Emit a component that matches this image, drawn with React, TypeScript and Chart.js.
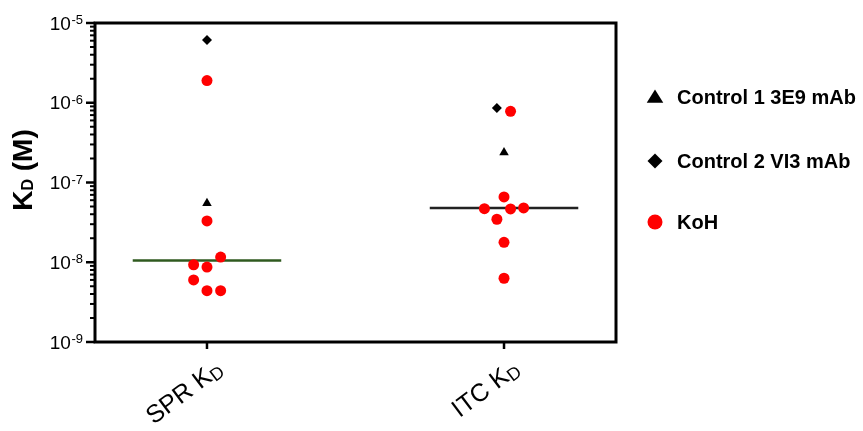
import React, { useEffect, useRef } from 'react';
import { Chart, registerables } from 'chart.js';
Chart.register(...registerables);

const categories = ['SPR', 'ITC'];
const categoryLabelMain = ['SPR K', 'ITC K'];
const categoryLabelSub = ['D', 'D'];
const yTickExponents = [-5, -6, -7, -8, -9];

const kohSprValues = [1.9e-6, 3.3e-8, 1.16e-8, 9.3e-9, 8.7e-9, 6.0e-9, 4.4e-9, 4.4e-9];
const kohSprJitter = [0, 0, 0.046, -0.045, 0, -0.045, 0, 0.046];
const kohItcValues = [7.8e-7, 6.6e-8, 4.7e-8, 4.66e-8, 4.8e-8, 3.46e-8, 1.78e-8, 6.3e-9];
const kohItcJitter = [0.022, 0, -0.066, 0.022, 0.066, -0.024, 0, 0];
const control1Values = [5.5e-8, 2.37e-7];
const control1Jitter = [0, 0];
const control2Values = [6.1e-6, 8.6e-7];
const control2Jitter = [0, -0.024];
const medianValues = [1.05e-8, 4.8e-8];
const medianHalfWidth = 0.25;
const legendLabels = ['Control 1 3E9 mAb', 'Control 2 VI3 mAb', 'KoH'];

const FONT = '"Liberation Sans", Arial, Helvetica, sans-serif';
const RED = '#ff0000';
const GREEN = '#2f5a1f';

function drawShape(ctx: CanvasRenderingContext2D, kind: string, x: number, y: number, r: number, color: string) {
  ctx.save();
  ctx.fillStyle = color;
  ctx.beginPath();
  if (kind === 'triangle') {
    ctx.moveTo(x, y - r);
    ctx.lineTo(x + r * 1.1, y + r * 0.75);
    ctx.lineTo(x - r * 1.1, y + r * 0.75);
    ctx.closePath();
  } else if (kind === 'diamond') {
    ctx.moveTo(x, y - r);
    ctx.lineTo(x + r, y);
    ctx.lineTo(x, y + r);
    ctx.lineTo(x - r, y);
    ctx.closePath();
  } else {
    ctx.arc(x, y, r, 0, Math.PI * 2);
  }
  ctx.fill();
  ctx.restore();
}

const decorPlugin = {
  id: 'decor',
  afterDraw(chart: any) {
    const ctx: CanvasRenderingContext2D = chart.ctx;
    const { left, right, top, bottom } = chart.chartArea;
    const xs = chart.scales.x;
    const ys = chart.scales.y;
    ctx.save();
    // frame
    ctx.strokeStyle = '#000';
    ctx.lineWidth = 3;
    ctx.strokeRect(left, top, right - left, bottom - top);

    // y ticks
    for (let e = -9; e <= -5; e++) {
      const py = ys.getPixelForValue(Math.pow(10, e));
      ctx.lineWidth = 2.5;
      ctx.beginPath();
      ctx.moveTo(left - 9, py);
      ctx.lineTo(left, py);
      ctx.stroke();
      if (e < -5) {
        for (let m = 2; m <= 9; m++) {
          const pm = ys.getPixelForValue(m * Math.pow(10, e));
          ctx.lineWidth = 2;
          ctx.beginPath();
          ctx.moveTo(left - 5, pm);
          ctx.lineTo(left, pm);
          ctx.stroke();
        }
      }
    }
    // y tick labels
    ctx.fillStyle = '#000';
    yTickExponents.forEach((e) => {
      const py = ys.getPixelForValue(Math.pow(10, e));
      const sup = String(e);
      ctx.font = `13px ${FONT}`;
      const sw = ctx.measureText(sup).width;
      const rightEdge = left - 12;
      ctx.textAlign = 'right';
      ctx.textBaseline = 'alphabetic';
      ctx.fillText(sup, rightEdge, py + 1);
      ctx.font = `19px ${FONT}`;
      ctx.fillText('10', rightEdge - sw - 0.5, py + 6.5);
    });

    // x ticks and labels
    categories.forEach((c, i) => {
      const px = xs.getPixelForValue(i + 1);
      ctx.lineWidth = 2.5;
      ctx.beginPath();
      ctx.moveTo(px, bottom);
      ctx.lineTo(px, bottom + 7);
      ctx.stroke();

      ctx.save();
      ctx.translate(px + 17, bottom + 30);
      ctx.rotate(-37 * Math.PI / 180);
      ctx.font = `25px ${FONT}`;
      const mw = ctx.measureText(categoryLabelMain[i]).width;
      ctx.font = `18px ${FONT}`;
      const dw = ctx.measureText(categoryLabelSub[i]).width;
      ctx.textAlign = 'left';
      ctx.textBaseline = 'alphabetic';
      ctx.font = `25px ${FONT}`;
      ctx.fillText(categoryLabelMain[i], -mw - dw, 0);
      ctx.font = `18px ${FONT}`;
      ctx.fillText(categoryLabelSub[i], -dw, 3);
      ctx.restore();
    });

    // y title
    ctx.save();
    ctx.translate(32, 170);
    ctx.rotate(-Math.PI / 2);
    ctx.textBaseline = 'alphabetic';
    ctx.textAlign = 'left';
    ctx.font = `bold 28px ${FONT}`;
    const kw = ctx.measureText('K').width;
    ctx.font = `bold 16px ${FONT}`;
    const dW = ctx.measureText('D').width;
    ctx.font = `bold 28px ${FONT}`;
    const restW = ctx.measureText(' (M)').width;
    const total = kw + dW + restW;
    let x0 = -total / 2;
    ctx.fillText('K', x0, 0);
    ctx.font = `bold 16px ${FONT}`;
    ctx.fillText('D', x0 + kw, 1);
    ctx.font = `bold 28px ${FONT}`;
    ctx.fillText(' (M)', x0 + kw + dW, 0);
    ctx.restore();

    // legend
    const kinds = ['triangle', 'diamond', 'circle'];
    const colors = ['#000', '#000', RED];
    const legendY = [97, 161, 222];
    legendLabels.forEach((lab, i) => {
      const r = kinds[i] === 'circle' ? 7.5 : 7.5;
      drawShape(ctx, kinds[i], 655, legendY[i], r, colors[i]);
      ctx.font = `bold 20px ${FONT}`;
      ctx.fillStyle = '#000';
      ctx.textAlign = 'left';
      ctx.textBaseline = 'middle';
      ctx.fillText(lab, 677, legendY[i] + 1);
    });
    ctx.restore();
  },
};

export default function App() {
  const ref = useRef<HTMLCanvasElement>(null);
  useEffect(() => {
    if (!ref.current) return;
    const pts = (vals: number[], jit: number[], cat: number) =>
      vals.map((v, i) => ({ x: cat + jit[i], y: v }));
    const twoCat = (vals: number[], jit: number[]) =>
      vals.map((v, i) => ({ x: i + 1 + jit[i], y: v }));
    const chart = new Chart(ref.current, {
      type: 'scatter',
      data: {
        datasets: [
          {
            label: legendLabels[2],
            data: [...pts(kohSprValues, kohSprJitter, 1), ...pts(kohItcValues, kohItcJitter, 2)],
            pointStyle: 'circle',
            pointRadius: 5.5,
            backgroundColor: RED,
            borderWidth: 0,
            order: 1,
          },
          {
            label: legendLabels[0],
            data: twoCat(control1Values, control1Jitter),
            pointStyle: 'triangle',
            pointRadius: 5.5,
            backgroundColor: '#000',
            borderColor: '#000',
            borderWidth: 0,
            order: 1,
          },
          {
            label: legendLabels[1],
            data: twoCat(control2Values, control2Jitter),
            pointStyle: 'rectRot',
            pointRadius: 5,
            backgroundColor: '#000',
            borderWidth: 0,
            order: 1,
          },
          {
            label: 'SPR median',
            data: [
              { x: 1 - medianHalfWidth, y: medianValues[0] },
              { x: 1 + medianHalfWidth, y: medianValues[0] },
            ],
            showLine: true,
            borderColor: GREEN,
            borderWidth: 2.5,
            pointRadius: 0,
            order: 2,
          },
          {
            label: 'ITC median',
            data: [
              { x: 2 - medianHalfWidth, y: medianValues[1] },
              { x: 2 + medianHalfWidth, y: medianValues[1] },
            ],
            showLine: true,
            borderColor: '#222',
            borderWidth: 2.5,
            pointRadius: 0,
            order: 2,
          },
        ],
      },
      options: {
        animation: false,
        responsive: true,
        maintainAspectRatio: false,
        layout: { padding: { left: 95, right: 247, top: 23, bottom: 89 } },
        plugins: { legend: { display: false }, tooltip: { enabled: false } },
        scales: {
          x: { type: 'linear', min: 0.623, max: 2.377, display: false },
          y: { type: 'logarithmic', min: 1e-9, max: 1e-5, display: false },
        },
      },
      plugins: [decorPlugin],
    } as any);
    return () => chart.destroy();
  }, []);
  return (
    <div style={{ position: 'fixed', left: 0, top: 0, width: 863, height: 431, background: '#fff' }}>
      <canvas ref={ref} />
    </div>
  );
}
